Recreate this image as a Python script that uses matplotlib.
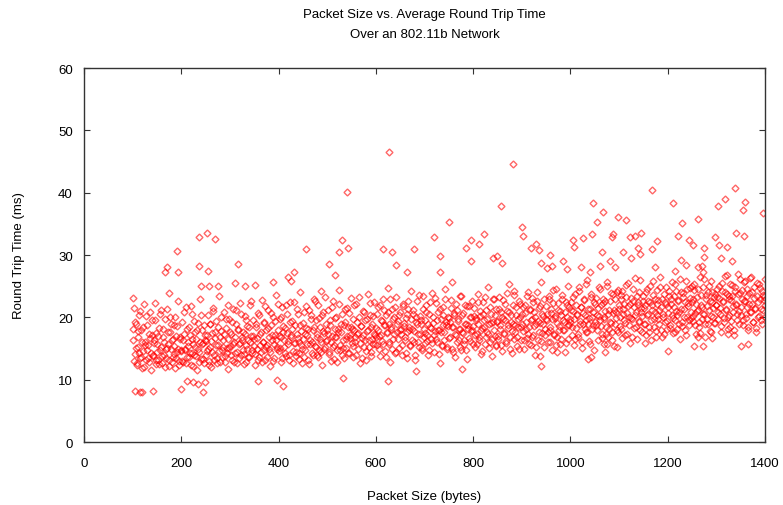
import numpy as np
import matplotlib
matplotlib.use('Agg')
import matplotlib.pyplot as plt

# main band of measurements, even packet sizes from 100 to 1400
sizes = list(range(100, 1401, 2))
rtt = [
    18.2, 21.5, 14.1, 19.0, 12.3, 16.8, 15.2, 20.4, 13.5, 17.9, 11.8, 14.6, 22.1, 16.0, 13.2, 18.7, 15.5, 12.9, 20.9, 14.3, 17.2, 13.8, 16.4, 19.6, 12.5,
    15.8, 13.1, 18.3, 14.7, 21.2, 12.6, 16.9, 14.0, 19.8, 13.4, 15.1, 17.6, 12.2, 20.1, 14.9, 16.3, 13.7, 18.8, 15.4, 11.9, 17.0, 14.4, 22.6, 13.0, 16.6,
    14.8, 19.3, 12.8, 17.4, 15.0, 21.7, 13.6, 16.1, 18.5, 14.2, 12.4, 20.6, 15.7, 13.9, 17.7, 16.5, 11.5, 19.1, 14.5, 22.9, 13.3, 18.0, 15.9, 12.7, 17.1,
    16.2, 14.6, 20.3, 13.0, 18.9, 15.3, 12.1, 17.5, 21.0, 14.0, 16.7, 19.4, 13.5, 15.6, 23.4, 12.9, 17.8, 14.8, 16.4, 20.8, 13.8, 18.3, 15.1, 11.7, 19.7,
    15.4, 17.3, 13.2, 21.4, 16.0, 14.3, 19.0, 12.6, 18.1, 15.8, 22.3, 13.9, 16.9, 17.7, 14.1, 20.2, 12.8, 15.5, 18.6, 16.3, 13.6, 21.9, 17.0, 14.7, 19.5,
    16.6, 12.4, 18.4, 15.0, 20.7, 13.7, 17.4, 14.4, 22.8, 16.1, 19.2, 13.1, 17.9, 15.6, 21.1, 14.9, 12.2, 18.8, 16.4, 20.0, 13.4, 17.2, 23.6, 15.3, 18.0,
    14.6, 19.8, 16.9, 12.9, 21.6, 17.6, 15.2, 18.3, 13.8, 20.5, 16.2, 14.0, 22.4, 17.1, 19.4, 12.7, 15.9, 18.7, 14.5, 21.3, 16.7, 13.3, 24.1, 17.8, 15.0,
    19.1, 13.6, 17.3, 21.8, 15.7, 18.2, 12.5, 16.4, 20.3, 14.2, 17.9, 23.0, 15.4, 19.6, 13.9, 16.8, 22.0, 14.8, 18.5, 16.0, 12.3, 20.9, 17.5, 15.3, 19.0,
    16.3, 21.2, 14.1, 18.8, 13.0, 17.0, 22.7, 15.6, 19.9, 16.9, 12.8, 18.1, 24.4, 14.7, 17.7, 20.6, 15.1, 13.5, 19.3, 16.5, 21.5, 18.4, 14.3, 17.2, 23.1,
    15.9, 19.7, 13.7, 18.0, 16.1, 22.2, 17.4, 14.9, 20.1, 12.6, 18.6, 16.7, 21.0, 15.2, 19.5, 13.2, 17.8, 23.8, 16.4, 20.4, 14.5, 18.9, 15.7, 22.5, 17.1,
    18.3, 15.5, 21.7, 17.0, 13.8, 19.6, 16.2, 22.9, 18.8, 14.6, 20.3, 17.5, 24.7, 15.8, 19.0, 12.9, 18.1, 21.4, 16.6, 20.0, 14.2, 23.3, 17.7, 19.4, 15.1,
    20.8, 17.3, 14.0, 22.1, 18.6, 16.3, 19.9, 13.4, 21.3, 17.9, 15.6, 24.2, 18.2, 20.6, 16.0, 13.1, 19.2, 22.6, 17.4, 15.3, 20.2, 18.9, 14.8, 23.5, 16.8,
    19.5, 15.9, 21.9, 17.2, 13.9, 20.5, 18.4, 16.5, 23.9, 19.1, 14.4, 17.8, 22.3, 16.1, 20.9, 18.0, 12.7, 19.7, 15.4, 21.6, 17.6, 24.5, 18.7, 14.9, 20.1,
    16.7, 19.3, 22.8, 15.0, 18.5, 20.7, 13.6, 17.1, 21.2, 19.8, 16.4, 23.4, 18.2, 14.7, 20.4, 17.5, 15.8, 22.0, 19.0, 13.3, 18.8, 21.8, 16.2, 20.0, 17.9,
    18.6, 21.5, 15.2, 19.9, 17.4, 23.7, 16.8, 20.2, 14.1, 18.3, 22.4, 19.6, 15.7, 21.1, 17.7, 24.9, 18.9, 16.0, 20.6, 13.8, 19.2, 22.9, 17.0, 15.5, 21.4,
    19.4, 16.6, 23.2, 18.1, 20.8, 14.6, 19.7, 17.3, 22.2, 15.9, 21.0, 18.7, 25.3, 16.9, 20.3, 14.3, 19.0, 23.6, 17.6, 21.7, 15.4, 18.4, 22.6, 20.0, 16.3,
    20.5, 17.8, 14.9, 22.0, 19.3, 16.7, 24.0, 18.5, 21.3, 15.6, 19.8, 23.1, 17.2, 20.9, 14.0, 18.9, 22.7, 16.4, 21.5, 19.1, 25.6, 17.5, 20.2, 15.3, 18.2,
    21.8, 19.5, 16.1, 23.5, 18.0, 20.7, 14.8, 22.3, 17.4, 19.9, 24.6, 16.9, 21.1, 18.6, 15.7, 20.4, 23.0, 17.9, 19.2, 14.4, 22.5, 20.1, 16.5, 25.1, 18.8,
    19.7, 22.4, 17.1, 21.0, 15.6, 23.8, 18.3, 20.6, 16.8, 24.3, 19.4, 21.7, 15.1, 18.9, 22.8, 20.3, 17.6, 26.0, 19.0, 16.2, 21.4, 23.3, 18.1, 20.9, 14.7,
    22.1, 18.7, 20.4, 16.4, 24.8, 19.6, 21.9, 17.3, 23.0, 15.8, 20.0, 22.6, 18.4, 25.7, 16.9, 21.2, 19.3, 23.9, 17.7, 20.7, 15.4, 22.9, 19.9, 18.0, 24.4,
    21.3, 18.6, 23.6, 16.7, 20.5, 22.2, 19.1, 25.2, 17.4, 21.8, 20.1, 15.9, 23.1, 19.7, 22.7, 18.3, 26.3, 20.8, 16.5, 22.0, 19.4, 24.1, 17.9, 21.5, 20.2,
    23.4, 19.0, 21.9, 17.2, 24.6, 20.6, 18.5, 22.4, 16.3, 21.1, 25.8, 19.8, 23.0, 17.8, 20.3, 22.8, 18.9, 24.9, 21.6, 16.9, 20.0, 23.7, 19.3, 22.1, 18.2,
    21.7, 24.2, 18.8, 22.9, 20.4, 17.5, 23.5, 19.6, 25.4, 21.0, 18.1, 22.6, 20.9, 16.6, 24.0, 19.2, 23.2, 21.4, 17.9, 25.9, 20.1, 22.3, 18.7, 24.7, 19.9,
    22.5, 19.4, 24.4, 20.7, 17.3, 23.3, 21.2, 18.4, 26.5, 22.0, 19.7, 24.8, 20.5, 16.8, 23.6, 21.8, 18.9, 25.0, 22.7, 20.2, 17.6, 24.1, 21.5, 19.1, 23.8,
    21.9, 24.5, 19.8, 23.1, 20.6, 17.7, 25.5, 22.4, 19.3, 24.0, 21.3, 26.8, 20.0, 23.4, 18.5, 22.8, 25.2, 20.9, 17.2, 24.3, 22.1, 19.6, 23.7, 21.0, 26.1,
    20.4, 23.0, 18.8, 25.7, 22.6, 19.9, 24.6, 21.6, 17.9, 23.9, 20.8, 26.4, 22.2, 19.2, 24.9, 21.4, 18.3, 23.5, 20.1, 25.3, 22.9, 19.5, 24.2, 21.1, 23.3,
    22.0,
]

# odd packet sizes from 101 to 1399
sizes_odd = list(range(101, 1400, 2))
rtt_odd = [
    16.4, 13.0, 19.2, 15.1, 12.7, 17.8, 14.2, 21.0, 13.6, 16.0, 18.4, 12.1, 15.6, 20.2, 14.8, 13.4, 17.3, 16.7, 11.6, 19.5, 14.0, 15.9, 22.3, 13.2, 17.5,
    14.4, 17.0, 12.5, 20.6, 15.3, 13.8, 18.2, 16.1, 12.0, 14.9, 21.4, 15.7, 13.1, 17.6, 19.0, 12.8, 16.5, 14.1, 20.0, 13.5, 18.6, 15.0, 12.3, 16.8, 14.6,
    13.0, 16.3, 20.9, 14.7, 12.6, 18.1, 15.4, 13.7, 17.2, 21.8, 14.3, 16.6, 12.2, 19.4, 15.2, 13.8, 17.9, 14.9, 12.9, 16.0, 20.4, 15.8, 13.3, 18.7, 16.4,
    13.9, 17.1, 15.0, 12.4, 19.0, 16.2, 14.4, 21.5, 13.1, 17.7, 15.5, 12.7, 18.4, 14.6, 16.8, 20.0, 13.6, 15.3, 17.4, 12.9, 19.8, 14.2, 16.5, 22.0, 15.1,
    17.6, 14.0, 19.3, 15.7, 12.8, 16.9, 21.1, 14.5, 18.0, 13.4, 15.9, 20.5, 16.3, 14.8, 12.5, 17.3, 19.6, 15.0, 13.7, 18.5, 16.1, 22.6, 14.3, 17.0, 15.4,
    14.1, 18.9, 16.7, 13.2, 20.4, 15.6, 17.7, 12.9, 16.0, 19.1, 14.7, 21.8, 15.3, 13.6, 18.3, 16.9, 14.4, 20.7, 17.2, 13.0, 15.8, 19.4, 16.4, 14.9, 22.2,
    17.0, 15.1, 20.1, 13.5, 18.6, 16.3, 14.2, 21.9, 17.5, 15.7, 13.1, 19.3, 16.8, 18.1, 14.6, 22.5, 15.9, 13.8, 17.4, 20.6, 16.1, 14.3, 18.8, 15.5, 12.6,
    16.5, 20.9, 14.8, 18.3, 17.1, 13.2, 21.2, 15.8, 19.7, 16.0, 14.0, 18.5, 22.7, 15.2, 17.3, 13.7, 19.9, 16.6, 14.4, 20.3, 17.8, 15.0, 23.3, 16.2, 18.0,
    17.4, 14.5, 19.6, 16.1, 21.6, 15.3, 13.3, 18.2, 16.9, 20.0, 14.8, 17.7, 22.1, 15.6, 19.0, 13.9, 16.4, 18.7, 21.3, 15.1, 17.0, 14.2, 20.7, 16.7, 18.4,
    18.1, 15.4, 21.9, 16.8, 14.0, 19.2, 17.5, 23.2, 15.9, 18.6, 13.5, 17.1, 20.8, 16.3, 14.6, 19.8, 17.9, 15.2, 22.3, 18.5, 13.8, 16.6, 20.2, 17.3, 15.7,
    16.9, 20.5, 18.0, 14.9, 22.0, 17.2, 19.4, 15.8, 21.1, 18.7, 13.6, 17.7, 20.9, 16.1, 23.0, 18.4, 15.0, 19.7, 17.3, 21.6, 14.4, 18.9, 16.5, 20.3, 17.9,
    18.2, 15.6, 21.8, 19.1, 16.8, 14.3, 20.6, 17.6, 22.7, 18.5, 15.4, 19.8, 16.3, 21.2, 17.8, 13.9, 20.1, 18.9, 16.0, 23.6, 17.4, 19.5, 15.1, 21.4, 18.1,
    17.5, 20.8, 16.2, 19.0, 14.7, 22.4, 18.3, 15.9, 20.0, 17.1, 23.1, 16.6, 19.6, 18.0, 14.1, 21.3, 17.7, 15.5, 20.4, 18.8, 16.4, 22.9, 19.3, 15.2, 18.6,
    19.9, 16.9, 21.5, 18.4, 14.5, 20.3, 17.3, 22.2, 16.1, 19.4, 18.1, 15.3, 23.5, 17.6, 20.7, 16.4, 19.0, 14.8, 21.8, 18.2, 16.7, 20.1, 17.8, 22.6, 15.7,
    20.2, 17.2, 19.5, 15.8, 22.5, 18.9, 16.3, 21.0, 17.9, 14.6, 20.6, 18.4, 23.3, 16.8, 19.7, 17.4, 15.1, 21.7, 19.1, 16.6, 22.9, 18.0, 20.4, 15.4, 19.3,
    17.0, 21.3, 18.8, 15.6, 20.0, 22.8, 17.5, 19.6, 16.2, 23.9, 18.3, 20.9, 15.0, 19.2, 17.8, 21.9, 16.5, 24.2, 18.7, 20.3, 16.9, 19.8, 14.9, 22.1, 18.5,
    19.0, 21.6, 16.4, 20.7, 18.2, 23.4, 17.3, 15.8, 21.2, 19.6, 16.9, 22.5, 18.6, 20.0, 15.3, 24.1, 19.4, 17.6, 21.8, 16.2, 20.5, 18.9, 23.0, 17.1, 19.8,
    20.6, 17.7, 22.9, 18.4, 16.0, 21.4, 19.7, 24.4, 17.2, 20.2, 15.5, 19.1, 22.3, 18.0, 21.0, 16.6, 23.6, 19.5, 17.9, 20.8, 15.9, 22.0, 18.7, 21.7, 19.2,
    21.1, 18.5, 23.2, 19.8, 16.6, 22.0, 20.4, 17.3, 24.9, 19.0, 21.6, 16.1, 20.7, 22.9, 18.2, 19.5, 25.3, 17.6, 21.3, 19.9, 15.8, 23.7, 20.1, 18.8, 22.4,
    19.3, 23.1, 17.9, 21.5, 20.2, 24.5, 18.6, 16.7, 22.3, 19.7, 21.0, 17.4, 25.0, 20.5, 18.1, 22.7, 19.1, 16.3, 23.8, 21.2, 18.9, 20.8, 24.0, 17.7, 21.9,
    20.0, 22.9, 18.2, 24.3, 21.4, 19.5, 17.1, 23.2, 20.7, 25.5, 18.8, 22.1, 19.9, 16.8, 24.6, 21.7, 20.3, 18.4, 23.5, 22.4, 19.2, 26.0, 20.9, 17.6, 22.6,
    21.5, 18.9, 24.0, 20.4, 22.7, 17.7, 25.1, 19.6, 21.9, 23.6, 18.5, 20.8, 16.9, 24.4, 22.2, 19.8, 21.2, 26.4, 18.0, 23.0, 20.6, 17.4, 22.5, 24.8, 19.4,
    20.7, 23.4, 18.3, 22.1, 25.6, 19.9, 21.6, 17.6, 24.2, 20.3, 22.8, 19.0, 26.1, 21.3, 18.6, 23.9, 20.0, 22.4, 17.1, 24.6, 21.8, 19.5, 23.1, 20.9, 25.0,
    23.0, 20.2, 25.3, 18.7, 22.2, 21.0, 24.5, 19.3, 17.5, 23.6, 21.7, 20.6, 26.2, 18.9, 22.9, 19.8, 24.0, 21.2, 17.8, 25.8, 22.4, 20.0, 23.3, 19.1, 21.9,
    23.2, 20.8, 25.0, 21.5, 18.6, 24.2, 22.6, 19.9, 26.6, 21.1, 23.7, 18.2, 22.9, 20.3, 25.4, 19.4, 23.5, 21.8, 17.9, 24.8, 22.0, 20.6, 26.9, 19.0, 23.9,
    21.7, 24.4, 19.6, 22.7, 25.9, 20.5, 23.4, 18.4, 22.1, 26.3, 20.9, 24.0, 19.3, 23.1, 21.5, 17.6, 25.5, 22.5, 20.2, 24.7, 21.3, 18.9, 23.6, 22.8, 20.0,
]

# stragglers above and below the band
spike_sizes = [101, 105, 115, 119, 142, 166, 171, 175, 191, 193, 199, 212, 224, 235, 236, 236, 241, 245, 249, 253,
               255, 257, 269, 275, 311, 317, 331, 352, 358, 389, 397, 409, 419, 426, 432, 456, 487, 503, 517, 524,
               530, 533, 541, 543, 614, 625, 627, 633, 642, 664, 679, 683, 720, 732, 732, 751, 756, 777, 785, 795,
               795, 812, 822, 841, 849, 857, 860, 882, 900, 903, 919, 929, 935, 938, 940, 940, 952, 958, 962, 972,
               985, 993, 1005, 1007, 1022, 1026, 1036, 1040, 1042, 1044, 1046, 1055, 1061, 1065, 1067, 1071, 1075, 1081, 1085, 1088,
               1092, 1096, 1097, 1108, 1114, 1122, 1124, 1133, 1139, 1143, 1145, 1153, 1167, 1167, 1174, 1178, 1201, 1211, 1215, 1221,
               1227, 1229, 1237, 1244, 1252, 1254, 1262, 1262, 1262, 1270, 1273, 1273, 1275, 1275, 1291, 1297, 1303, 1305, 1310, 1318,
               1322, 1324, 1332, 1338, 1340, 1351, 1355, 1357, 1359, 1365, 1396, 1400]
spike_rtt = [23.1, 8.2, 8.1, 8.0, 8.2, 27.3, 28.1, 23.9, 30.6, 27.3, 8.5, 9.8, 9.6, 9.3, 32.9, 28.2, 25.0, 8.0, 9.6, 33.5,
             27.4, 25.0, 32.6, 25.0, 25.5, 28.6, 25.0, 25.2, 9.8, 25.7, 9.9, 9.0, 26.5, 25.8, 27.3, 31.0, 24.2, 28.6, 26.8, 30.5,
             32.4, 10.3, 40.1, 31.1, 31.0, 9.8, 46.5, 30.5, 28.4, 27.3, 30.9, 11.4, 32.9, 29.8, 27.2, 35.3, 25.7, 11.7, 31.1, 32.4,
             29.0, 31.8, 33.3, 29.5, 29.8, 37.9, 28.7, 44.6, 34.5, 33.0, 31.1, 31.8, 30.8, 13.8, 28.7, 12.2, 27.9, 30.0, 28.2, 14.4,
             29.0, 27.8, 32.4, 31.3, 28.0, 32.7, 13.3, 27.3, 13.6, 33.4, 38.3, 35.3, 28.2, 30.5, 36.9, 14.4, 15.7, 29.0, 32.9, 33.4,
             28.1, 15.2, 36.1, 30.5, 35.6, 32.9, 29.5, 33.1, 31.1, 30.2, 33.5, 15.9, 40.4, 31.0, 28.1, 32.2, 14.6, 38.3, 27.4, 33.0,
             29.2, 35.1, 28.4, 32.4, 31.6, 15.4, 35.8, 28.1, 16.8, 28.2, 27.3, 15.4, 31.1, 29.7, 16.7, 32.9, 37.9, 31.6, 29.5, 39.0,
             31.3, 17.3, 29.0, 40.7, 33.5, 15.4, 37.2, 33.0, 38.5, 15.7, 36.7, 26.1]

plt.rcParams['font.family'] = ['Liberation Sans Narrow', 'Liberation Sans', 'DejaVu Sans']

fig = plt.figure(figsize=(7.83, 5.06), dpi=100)
ax = fig.add_axes([0.1073, 0.1245, 0.8697, 0.7391])

mk = dict(marker='D', ms=3.5, mfc='none', mec='red', mew=1.0, alpha=0.6, ls='none')
ax.plot(sizes, rtt, **mk)
ax.plot(sizes_odd, rtt_odd, **mk)
ax.plot(spike_sizes, spike_rtt, **mk)

ax.set_xlim(0, 1400)
ax.set_ylim(0, 60)
ax.set_xticks(range(0, 1401, 200))
ax.set_yticks(range(0, 61, 10))
ax.tick_params(direction='in', length=4, top=True, right=True, labelsize=9.5, pad=8, color='#333333')
ax.tick_params(axis='x', pad=11)
for s in ax.spines.values():
    s.set_color('#333333')
    s.set_linewidth(1.0)

ax.set_title('Packet Size vs. Average Round Trip Time\nOver an 802.11b Network', fontsize=9.5, pad=22, linespacing=1.9)
ax.set_xlabel('Packet Size (bytes)', fontsize=9.5, labelpad=15)
ax.set_ylabel('Round Trip Time (ms)', fontsize=9.5, labelpad=24)

fig.savefig('out.png', dpi=100)
